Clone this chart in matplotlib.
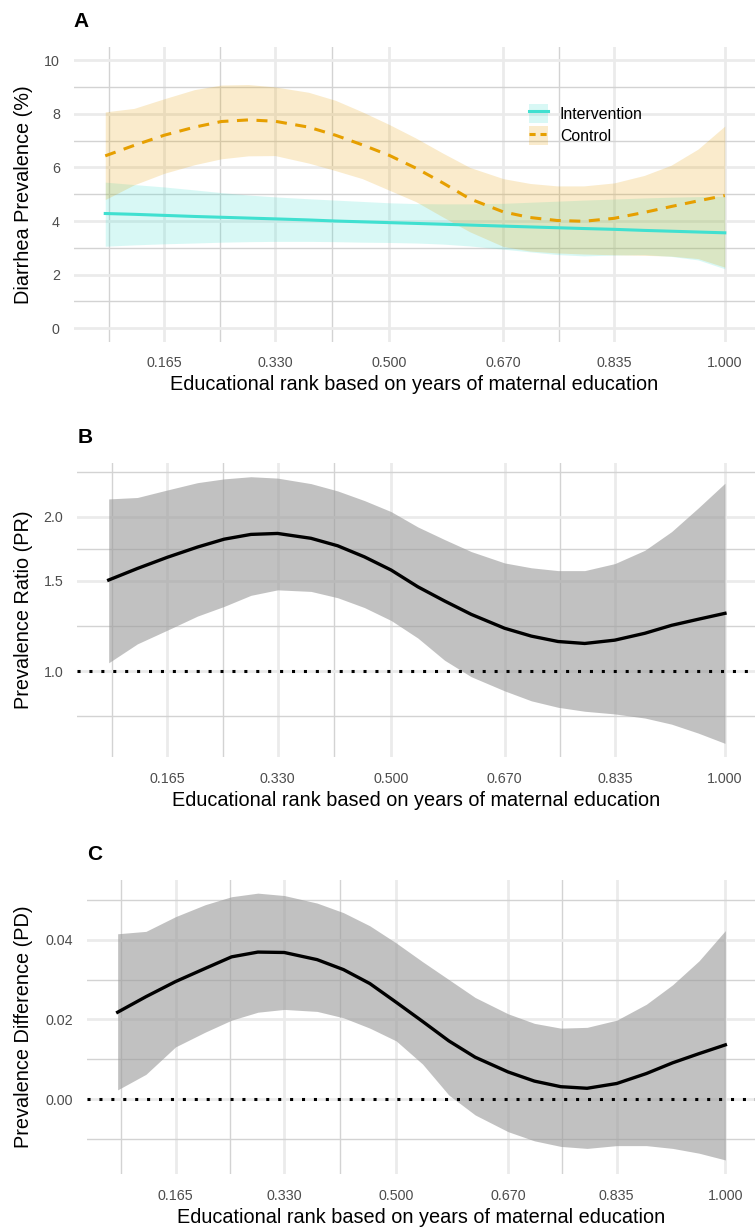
import numpy as np
import matplotlib
matplotlib.use('Agg')
import matplotlib.pyplot as plt
from matplotlib.lines import Line2D
from matplotlib.patches import Patch
from matplotlib.ticker import FixedLocator, FixedFormatter, NullLocator

plt.rcParams['font.family'] = ['Liberation Sans', 'DejaVu Sans']

# Datos (rango educativo)
x_rank = [0.077, 0.12, 0.165, 0.21, 0.25, 0.29, 0.33, 0.38, 0.42, 0.46, 0.50, 0.54,
          0.58, 0.62, 0.67, 0.71, 0.75, 0.79, 0.835, 0.88, 0.92, 0.96, 1.0]

# Panel A: prevalencia de diarrea (%)
control_fit = [6.43, 6.82, 7.2, 7.5, 7.71, 7.77, 7.72, 7.5, 7.2, 6.84, 6.45, 5.97,
               5.42, 4.83, 4.34, 4.13, 4.02, 3.99, 4.1, 4.32, 4.54, 4.75, 4.95]
control_hi = [8.07, 8.2, 8.56, 8.9, 9.07, 9.09, 9.0, 8.8, 8.5, 8.07, 7.6, 7.09,
              6.53, 6.0, 5.58, 5.4, 5.31, 5.31, 5.42, 5.7, 6.08, 6.68, 7.54]
control_lo = [4.8, 5.35, 5.78, 6.1, 6.32, 6.43, 6.44, 6.16, 5.88, 5.58, 5.15, 4.72,
              4.15, 3.6, 3.05, 2.88, 2.81, 2.77, 2.74, 2.72, 2.69, 2.6, 2.28]
interv_fit = [4.28, 4.25, 4.21, 4.17, 4.14, 4.11, 4.08, 4.04, 4.0, 3.97, 3.94, 3.91,
              3.88, 3.85, 3.81, 3.78, 3.75, 3.72, 3.69, 3.65, 3.62, 3.59, 3.56]
interv_hi = [5.45, 5.36, 5.27, 5.16, 5.06, 4.97, 4.9, 4.83, 4.78, 4.73, 4.68, 4.65,
             4.64, 4.64, 4.66, 4.7, 4.74, 4.78, 4.82, 4.86, 4.89, 4.91, 4.93]
interv_lo = [3.06, 3.11, 3.15, 3.18, 3.21, 3.23, 3.24, 3.24, 3.23, 3.21, 3.2, 3.18,
             3.14, 3.07, 2.95, 2.85, 2.75, 2.7, 2.73, 2.75, 2.68, 2.55, 2.22]

# Panel B: razón de prevalencias (PR)
pr_fit = [1.505, 1.585, 1.667, 1.745, 1.808, 1.847, 1.855, 1.815, 1.755, 1.67, 1.574, 1.46,
          1.37, 1.29, 1.212, 1.17, 1.142, 1.132, 1.149, 1.185, 1.228, 1.262, 1.296]
pr_hi = [2.166, 2.18, 2.255, 2.33, 2.37, 2.393, 2.378, 2.32, 2.245, 2.15, 2.046, 1.91,
         1.805, 1.71, 1.625, 1.59, 1.57, 1.57, 1.62, 1.72, 1.87, 2.08, 2.324]
pr_lo = [1.038, 1.13, 1.202, 1.28, 1.337, 1.405, 1.44, 1.43, 1.39, 1.33, 1.255, 1.16,
         1.05, 0.975, 0.915, 0.875, 0.85, 0.835, 0.825, 0.81, 0.788, 0.757, 0.723]

# Panel C: diferencia de prevalencias (PD)
pd_fit = [0.0218, 0.0257, 0.0295, 0.0328, 0.0357, 0.0369, 0.0368, 0.0350, 0.0325, 0.0290,
          0.0243, 0.0195, 0.0146, 0.0105, 0.0068, 0.0045, 0.0031, 0.0027, 0.0039, 0.0064,
          0.0091, 0.0114, 0.0136]
pd_hi = [0.0415, 0.0421, 0.0458, 0.0488, 0.0508, 0.0517, 0.0511, 0.0492, 0.0468, 0.0435,
         0.0392, 0.0345, 0.0300, 0.0255, 0.0214, 0.0190, 0.0178, 0.0180, 0.0198, 0.0238,
         0.0287, 0.0347, 0.0423]
pd_lo = [0.0023, 0.0062, 0.0131, 0.0168, 0.0198, 0.0218, 0.0225, 0.0220, 0.0204, 0.0178,
         0.0146, 0.0088, 0.0010, -0.0040, -0.0082, -0.0105, -0.0119, -0.0124, -0.0117,
         -0.0117, -0.0124, -0.0136, -0.0153]

x_ticks = [0.165, 0.330, 0.500, 0.670, 0.835, 1.000]
x_ticklabels = ['0.165', '0.330', '0.500', '0.670', '0.835', '1.000']
x_minor = [0.0825, 0.2475, 0.415, 0.7525]
xlabel = 'Educational rank based on years of maternal education'

W, H = 755, 1231
fig = plt.figure(figsize=(W / 100, H / 100), dpi=100)

def make_axes(left, top, bottom):
    return fig.add_axes([left / W, 1 - bottom / H, (W - left) / W, (bottom - top) / H])

def style_axes(ax, yticks, yticklabels, ymajor, yminor, ylabel, letter, left, top, bottom):
    ax.set_xlim(0.030, 1.045)
    for s in ax.spines.values():
        s.set_visible(False)
    for v in x_ticks:
        ax.axvline(v, color='#EBEBEB', lw=2.0, zorder=0)
    for v in x_minor:
        ax.axvline(v, color='#D3D3D3', lw=1.0, zorder=0)
    for v in ymajor:
        ax.axhline(v, color='#EBEBEB', lw=2.0, zorder=0)
    for v in yminor:
        ax.axhline(v, color='#D3D3D3', lw=1.0, zorder=0)
    ax.xaxis.set_major_locator(FixedLocator(x_ticks))
    ax.xaxis.set_major_formatter(FixedFormatter(x_ticklabels))
    ax.xaxis.set_minor_locator(NullLocator())
    ax.yaxis.set_major_locator(FixedLocator(yticks))
    ax.yaxis.set_major_formatter(FixedFormatter(yticklabels))
    ax.yaxis.set_minor_locator(NullLocator())
    ax.tick_params(axis='both', length=0, labelsize=10.3, labelcolor='#4D4D4D')
    ax.tick_params(axis='x', pad=10.5)
    ax.tick_params(axis='y', pad=10)
    hpx = bottom - top
    wpx = W - left
    ax.set_xlabel(xlabel, fontsize=14.3, color='black')
    ax.xaxis.set_label_coords(0.5, -43.3 / hpx)
    ax.xaxis.label.set_va('center')
    ax.set_ylabel(ylabel, fontsize=14.3, color='black')
    ax.yaxis.set_label_coords((23.5 - left) / wpx, 0.5)
    ax.yaxis.label.set_va('center')
    ax.text(0.0, 1 + 20 / hpx, letter, transform=ax.transAxes, fontsize=15,
            fontweight='bold', ha='left', va='baseline')

# ---- Panel A ----
la, ta, ba = 73.7, 46.7, 341.7
axA = make_axes(la, ta, ba)
axA.fill_between(x_rank, interv_lo, interv_hi, color='#40E0D0', alpha=0.2, lw=0, zorder=1)
axA.fill_between(x_rank, control_lo, control_hi, color='#E69F00', alpha=0.2, lw=0, zorder=1)
axA.plot(x_rank, interv_fit, color='#40E0D0', lw=2.2, zorder=3)
axA.plot(x_rank, control_fit, color='#E69F00', lw=2.2, dashes=(3.6, 2.8), zorder=3)
axA.set_ylim(-0.5, 10.5)
style_axes(axA, [0, 2, 4, 6, 8, 10], ['0', '2', '4', '6', '8', '10'],
           [0, 2, 4, 6, 8, 10], [1, 3, 5, 7, 9], 'Diarrhea Prevalence (%)', 'A', la, ta, ba)

h_int = (Patch(facecolor='#40E0D0', alpha=0.2, lw=0),
         Line2D([], [], color='#40E0D0', lw=2.2))
h_ctl = (Patch(facecolor='#E69F00', alpha=0.2, lw=0),
         Line2D([], [], color='#E69F00', lw=2.2, dashes=(2.0, 1.6)))
axA.legend([h_int, h_ctl], ['Intervention', 'Control'], loc='upper left',
           bbox_to_anchor=((529.3 - la) / (W - la), 1 - (104 - ta) / (ba - ta)),
           frameon=False, fontsize=11.4, handlelength=1.2, handleheight=1.47,
           handletextpad=0.73, labelspacing=0.2, borderpad=0, borderaxespad=0)

# ---- Panel B ----
lb, tb, bb = 77.3, 463, 757
axB = make_axes(lb, tb, bb)
axB.set_yscale('log')
axB.fill_between(x_rank, pr_lo, pr_hi, color='#999999', alpha=0.6, lw=0, zorder=1)
axB.plot(x_rank, pr_fit, color='black', lw=2.4, zorder=3)
axB.axhline(1.0, color='black', lw=2.2, linestyle=(0, (1, 2.9)), dash_capstyle='butt', zorder=4)
axB.set_ylim(0.68, 2.545)
style_axes(axB, [1.0, 1.5, 2.0], ['1.0', '1.5', '2.0'],
           [1.0, 1.5, 2.0], [0.8165, 1.2247, 1.7321, 2.4495],
           'Prevalence Ratio (PR)', 'B', lb, tb, bb)

# ---- Panel C ----
lc, tc, bc = 86.7, 880, 1174.3
axC = make_axes(lc, tc, bc)
axC.fill_between(x_rank, pd_lo, pd_hi, color='#999999', alpha=0.6, lw=0, zorder=1)
axC.plot(x_rank, pd_fit, color='black', lw=2.4, zorder=3)
axC.axhline(0.0, color='black', lw=2.2, linestyle=(0, (1, 2.9)), dash_capstyle='butt', zorder=4)
axC.set_ylim(-0.0189, 0.055)
style_axes(axC, [0.0, 0.02, 0.04], ['0.00', '0.02', '0.04'],
           [0.0, 0.02, 0.04], [-0.01, 0.01, 0.03, 0.05],
           'Prevalence Difference (PD)', 'C', lc, tc, bc)

fig.savefig('out.png', dpi=100)
